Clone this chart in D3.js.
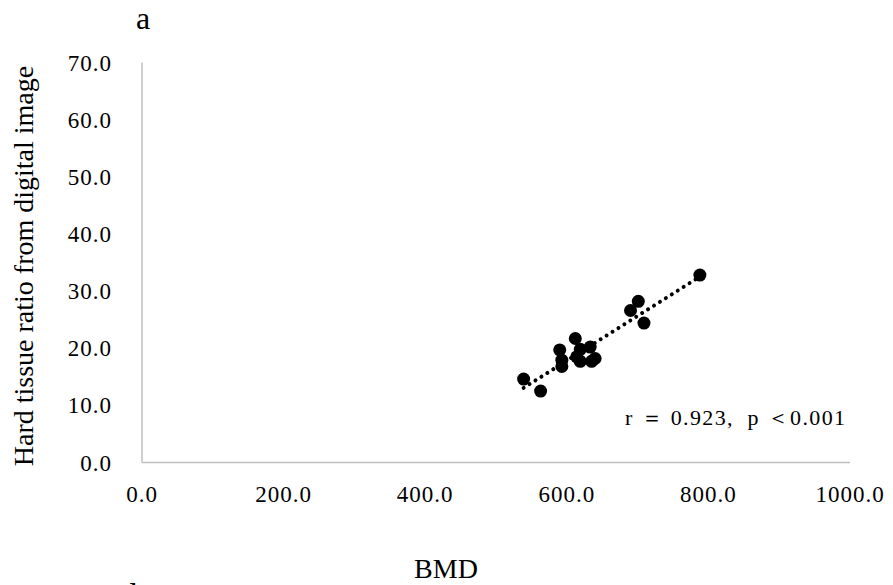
<!DOCTYPE html>
<meta charset="utf-8">
<html lang="en">
<head>
  <title>BMD vs hard tissue ratio</title>
  <script src="https://d3js.org/d3.v7.min.js"></script>
  <style>
    body { margin: 0; background: #fff; }
    text { font-family: "Liberation Serif", "Times New Roman", serif; fill: #000; }
  </style>
</head>
<body>
<div id="chart"></div>
<script>
// data
var bmd   = [539, 563, 590, 593, 593, 612, 614, 619, 619, 633, 635, 640, 690, 701, 709, 788];
var ratio = [14.6, 12.5, 19.7, 17.9, 16.8, 21.7, 18.5, 19.8, 17.7, 20.2, 17.7, 18.2, 26.6, 28.2, 24.4, 32.8];
var xTicks = [0, 200, 400, 600, 800, 1000];
var yTicks = [0, 10, 20, 30, 40, 50, 60, 70];
var statText = "r \uFF1D 0.923,  p \uFF1C0.001";

var W = 893, H = 585;
var svg = d3.select("#chart").append("svg")
    .attr("width", W).attr("height", H);

var x = d3.scaleLinear().domain([0, 1000]).range([142, 850]);
var y = d3.scaleLinear().domain([0, 70]).range([462.5, 62.5]);

// axes lines (Excel style, no ticks)
svg.append("line")
    .attr("x1", x(0)).attr("x2", x(0))
    .attr("y1", y(70)).attr("y2", y(0))
    .attr("stroke", "#bfbfbf").attr("stroke-width", 1.5);
svg.append("line")
    .attr("x1", x(0)).attr("x2", x(1000))
    .attr("y1", y(0)).attr("y2", y(0))
    .attr("stroke", "#bfbfbf").attr("stroke-width", 1.5);

// tick labels
svg.selectAll(".ytick").data(yTicks).enter().append("text")
    .attr("class", "ytick")
    .attr("x", 112)
    .attr("y", function(d) { return y(d); })
    .attr("dy", "0.35em")
    .attr("text-anchor", "end")
    .style("font-size", "23px")
    .style("letter-spacing", "1px")
    .text(function(d) { return d3.format(".1f")(d); });

svg.selectAll(".xtick").data(xTicks).enter().append("text")
    .attr("class", "xtick")
    .attr("x", function(d) { return x(d); })
    .attr("y", 502)
    .attr("text-anchor", "middle")
    .style("font-size", "23px")
    .style("letter-spacing", "1px")
    .text(function(d) { return d3.format(".1f")(d); });

// linear trend line (least squares)
var mx = d3.mean(bmd), my = d3.mean(ratio);
var sxy = d3.sum(bmd, function(v, i) { return (v - mx) * (ratio[i] - my); });
var sxx = d3.sum(bmd, function(v) { return (v - mx) * (v - mx); });
var slope = sxy / sxx, icpt = my - slope * mx;
var ext = d3.extent(bmd);
svg.append("path")
    .datum(ext)
    .attr("fill", "none")
    .attr("stroke", "#000")
    .attr("stroke-width", 4)
    .attr("stroke-linecap", "round")
    .attr("stroke-dasharray", "0.01 7")
    .attr("d", d3.line()
      .x(function(d) { return x(d); })
      .y(function(d) { return y(slope * d + icpt); }));

// points
svg.selectAll(".pt").data(bmd).enter().append("circle")
    .attr("class", "pt")
    .attr("cx", function(d) { return x(d); })
    .attr("cy", function(d, i) { return y(ratio[i]); })
    .attr("r", 6.5)
    .attr("fill", "#000");

// stat annotation
svg.append("text")
    .attr("x", 625).attr("y", 425)
    .attr("textLength", 220)
    .attr("lengthAdjust", "spacing")
    .style("font-size", "22px")
    .style("white-space", "pre")
    .text(statText);

// axis titles
svg.append("text")
    .attr("transform", "translate(33,266) rotate(-90)")
    .attr("text-anchor", "middle")
    .style("font-size", "28px")
    .text("Hard tissue ratio from digital image");

svg.append("text")
    .attr("x", 446).attr("y", 578)
    .attr("text-anchor", "middle")
    .style("font-size", "28px")
    .text("BMD");

// panel letters
svg.append("text")
    .attr("x", 136).attr("y", 29)
    .style("font-size", "32px")
    .text("a");
svg.append("text")
    .attr("x", 130).attr("y", 607)
    .style("font-size", "34px")
    .text("b");
</script>
</body>
</html>
